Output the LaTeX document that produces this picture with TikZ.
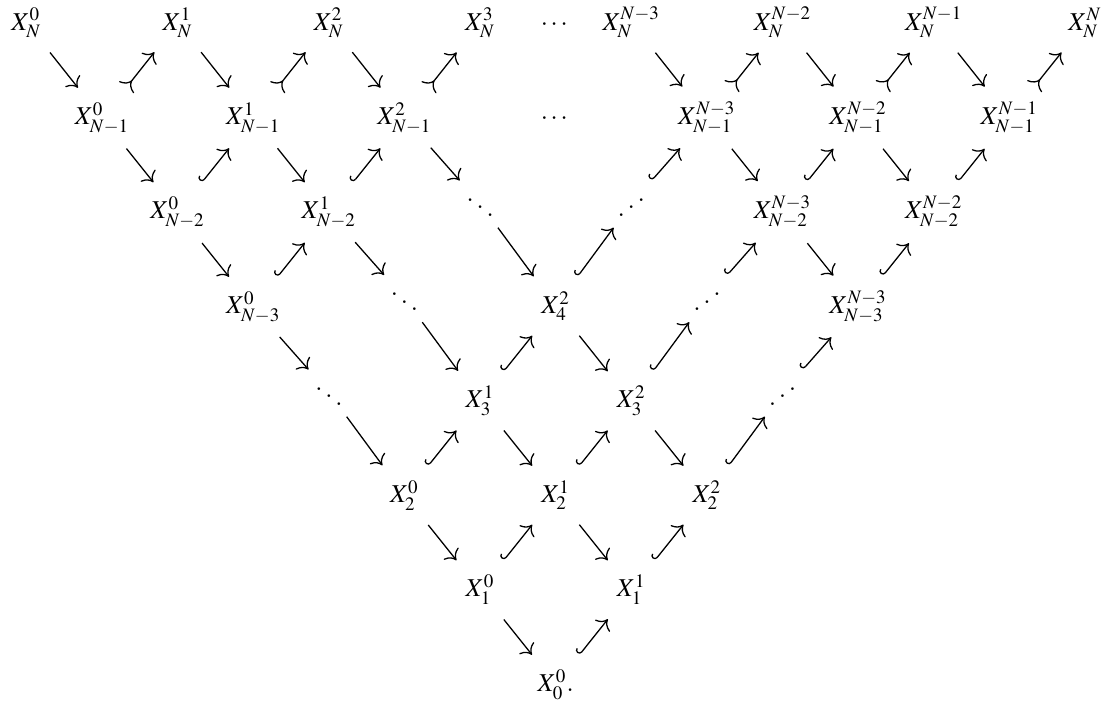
\documentclass[tikz,border=0pt]{standalone}
\usepackage{amsmath}
\usepackage{mathptmx}
\usepackage{graphicx}
\usetikzlibrary{arrows.meta}

\newcommand{\revddots}{\reflectbox{$\ddots$}}

\begin{document}
\begin{tikzpicture}[x=29.42pt, y=-36.77pt, line width=0.5pt,
    obj/.style={anchor=base, inner sep=0pt},
    dotsobj/.style={anchor=base, inner xsep=-2pt, inner ysep=-2.5pt, text height=12pt, text depth=0pt},
    down/.style={-{Computer Modern Rightarrow[scale=1.3]}, shorten <=7pt, shorten >=7pt},
    hookup/.style={{Hooks[right]}-{Computer Modern Rightarrow[scale=1.3]}, shorten <=7pt, shorten >=7pt},
    tailup/.style={{Computer Modern Rightarrow[reversed,scale=1.3]}-{Computer Modern Rightarrow[scale=1.3]}, shorten <=7pt, shorten >=7pt}]

    \useasboundingbox (-0.3505,-0.3174) rectangle (14.291,7.154);

    % row N
    \node[obj] (v0-0) at (0,0) {$X^{0}_{N}$};
    \node[obj] (v0-2) at (2,0) {$X^{1}_{N}$};
    \node[obj] (v0-4) at (4,0) {$X^{2}_{N}$};
    \node[obj] (v0-6) at (6,0) {$X^{3}_{N}$};
    \node[obj] (v0-7) at (7,0) {$\cdots$};
    \node[obj] (v0-8) at (8,0) {$X^{N-3}_{N}$};
    \node[obj] (v0-10) at (10,0) {$X^{N-2}_{N}$};
    \node[obj] (v0-12) at (12,0) {$X^{N-1}_{N}$};
    \node[obj] (v0-14) at (14,0) {$X^{N}_{N}$};

    % row N-1
    \node[obj] (v1-1) at (1,1) {$X^{0}_{N-1}$};
    \node[obj] (v1-3) at (3,1) {$X^{1}_{N-1}$};
    \node[obj] (v1-5) at (5,1) {$X^{2}_{N-1}$};
    \node[obj] (v1-7) at (7,1) {$\cdots$};
    \node[obj] (v1-9) at (9,1) {$X^{N-3}_{N-1}$};
    \node[obj] (v1-11) at (11,1) {$X^{N-2}_{N-1}$};
    \node[obj] (v1-13) at (13,1) {$X^{N-1}_{N-1}$};

    % row N-2
    \node[obj] (v2-2) at (2,2) {$X^{0}_{N-2}$};
    \node[obj] (v2-4) at (4,2) {$X^{1}_{N-2}$};
    \node[dotsobj] (v2-6) at (6,2) {$\ddots$};
    \node[dotsobj] (v2-8) at (8,2) {\revddots};
    \node[obj] (v2-10) at (10,2) {$X^{N-3}_{N-2}$};
    \node[obj] (v2-12) at (12,2) {$X^{N-2}_{N-2}$};

    % row N-3
    \node[obj] (v3-3) at (3,3) {$X^{0}_{N-3}$};
    \node[dotsobj] (v3-5) at (5,3) {$\ddots$};
    \node[obj] (v3-7) at (7,3) {$X^{2}_{4}$};
    \node[dotsobj] (v3-9) at (9,3) {\revddots};
    \node[obj] (v3-11) at (11,3) {$X^{N-3}_{N-3}$};

    % rows 3 to 0
    \node[dotsobj] (v4-4) at (4,4) {$\ddots$};
    \node[obj] (v4-6) at (6,4) {$X^{1}_{3}$};
    \node[obj] (v4-8) at (8,4) {$X^{2}_{3}$};
    \node[dotsobj] (v4-10) at (10,4) {\revddots};

    \node[obj] (v5-5) at (5,5) {$X^{0}_{2}$};
    \node[obj] (v5-7) at (7,5) {$X^{1}_{2}$};
    \node[obj] (v5-9) at (9,5) {$X^{2}_{2}$};

    \node[obj] (v6-6) at (6,6) {$X^{0}_{1}$};
    \node[obj] (v6-8) at (8,6) {$X^{1}_{1}$};

    \node[obj] (v7-7) at (7,7) {$X^{0}_{0}.$};

    % down arrows
    \draw[down] (v0-0) -- (v1-1); \draw[down] (v0-2) -- (v1-3); \draw[down] (v0-4) -- (v1-5);
    \draw[down] (v0-8) -- (v1-9); \draw[down] (v0-10) -- (v1-11); \draw[down] (v0-12) -- (v1-13);
    \draw[down] (v1-1) -- (v2-2); \draw[down] (v1-3) -- (v2-4); \draw[down] (v1-5) -- (v2-6);
    \draw[down] (v1-9) -- (v2-10); \draw[down] (v1-11) -- (v2-12);
    \draw[down] (v2-2) -- (v3-3); \draw[down] (v2-4) -- (v3-5); \draw[down] (v2-6) -- (v3-7);
    \draw[down] (v2-10) -- (v3-11);
    \draw[down] (v3-3) -- (v4-4); \draw[down] (v3-5) -- (v4-6); \draw[down] (v3-7) -- (v4-8);
    \draw[down] (v4-4) -- (v5-5); \draw[down] (v4-6) -- (v5-7); \draw[down] (v4-8) -- (v5-9);
    \draw[down] (v5-5) -- (v6-6); \draw[down] (v5-7) -- (v6-8);
    \draw[down] (v6-6) -- (v7-7);

    % tails into the top row
    \draw[tailup] (v1-1) -- (v0-2); \draw[tailup] (v1-3) -- (v0-4); \draw[tailup] (v1-5) -- (v0-6);
    \draw[tailup] (v1-9) -- (v0-10); \draw[tailup] (v1-11) -- (v0-12); \draw[tailup] (v1-13) -- (v0-14);

    % hooks
    \draw[hookup] (v2-2) -- (v1-3); \draw[hookup] (v2-4) -- (v1-5); \draw[hookup] (v2-8) -- (v1-9);
    \draw[hookup] (v2-10) -- (v1-11); \draw[hookup] (v2-12) -- (v1-13);
    \draw[hookup] (v3-3) -- (v2-4); \draw[hookup] (v3-7) -- (v2-8); \draw[hookup] (v3-9) -- (v2-10);
    \draw[hookup] (v3-11) -- (v2-12);
    \draw[hookup] (v4-6) -- (v3-7); \draw[hookup] (v4-8) -- (v3-9); \draw[hookup] (v4-10) -- (v3-11);
    \draw[hookup] (v5-5) -- (v4-6); \draw[hookup] (v5-7) -- (v4-8); \draw[hookup] (v5-9) -- (v4-10);
    \draw[hookup] (v6-6) -- (v5-7); \draw[hookup] (v6-8) -- (v5-9);
    \draw[hookup] (v7-7) -- (v6-8);
\end{tikzpicture}
\end{document}
